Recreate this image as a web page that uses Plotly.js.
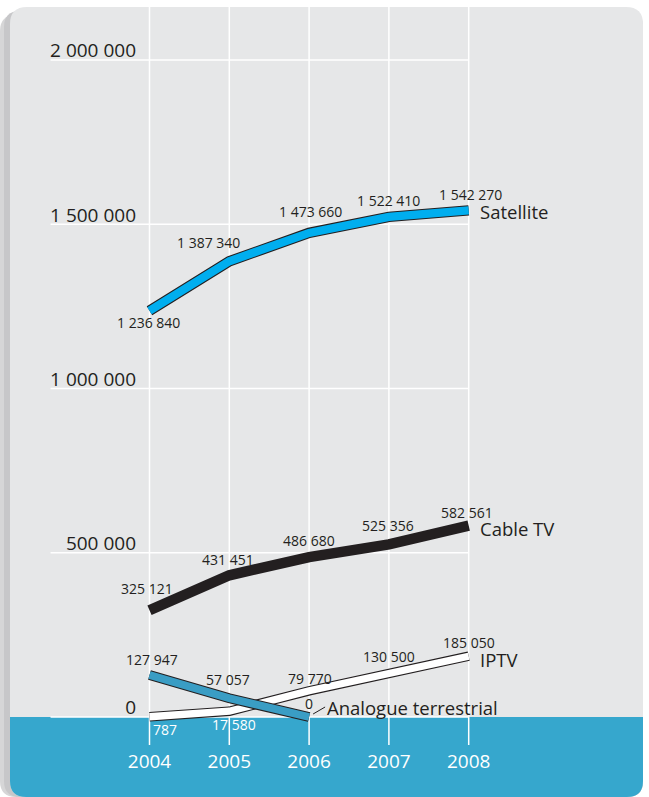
<!DOCTYPE html>
<html>
<head>
<meta charset="utf-8">
<script src="https://cdn.plot.ly/plotly-3.0.1.min.js"></script>
<style>
  html, body { margin: 0; padding: 0; background: #ffffff; }
  #chart { width: 649px; height: 797px; }
</style>
</head>
<body>
<div id="chart"></div>
<script>
// ---------- DATA ----------
const years = [2004, 2005, 2006, 2007, 2008];
const satellite = [1236840, 1387340, 1473660, 1522410, 1542270];
const cableTV = [325121, 431451, 486680, 525356, 582561];
const iptv = [787, 17580, 79770, 130500, 185050];
const analogueYears = [2004, 2005, 2006];
const analogue = [127947, 57057, 0];
const yTickVals = [0, 500000, 1000000, 1500000, 2000000];
const yTickText = ['0', '500 000', '1 000 000', '1 500 000', '2 000 000'];
const xTickText = ['2004', '2005', '2006', '2007', '2008'];
const seriesNames = ['Satellite', 'Cable TV', 'IPTV', 'Analogue terrestrial'];

// ---------- STYLE ----------
const W = 649, H = 797;
const INK = '#231f20';
const PANEL = '#e6e7e8';
const BAND = '#36a7cd';
const FONT = 'Open Sans, Noto Sans, sans-serif';

// label offsets in pixels [dx, dy(up)]
const satOff = [[-1, -12], [-21, 18.5], [1, 21], [0, 16], [2, 15.5]];
const cabOff = [[-2.5, 22], [-1, 16], [0, 16.5], [-1, 18.5], [-2, 13.5]];
const iptvOff = [[15.5, -12.5], [4.5, -13.5], [0.5, 12.5], [0, 17.5], [0, 13.5]];
const anaOff = [[2, 15], [-1, 18.5], [0, 14]];
const iptvLabelColor = ['#ffffff', '#ffffff', INK, INK, INK];

function fmt(v) { return String(v).replace(/\B(?=(\d{3})+(?!\d))/g, ' '); }
function P(x, y) { return (x / W).toFixed(5) + ',' + (1 - y / H).toFixed(5); }
function roundRect(x0, y0, x1, y1, rT, rB) {
  return 'M' + P(x0 + rT, y0) + ' L' + P(x1 - rT, y0) +
    ' Q' + P(x1, y0) + ' ' + P(x1, y0 + rT) +
    ' L' + P(x1, y1 - rB) + ' Q' + P(x1, y1) + ' ' + P(x1 - rB, y1) +
    ' L' + P(x0 + rB, y1) + ' Q' + P(x0, y1) + ' ' + P(x0, y1 - rB) +
    ' L' + P(x0, y0 + rT) + ' Q' + P(x0, y0) + ' ' + P(x0 + rT, y0) + ' Z';
}

// ---------- TRACES ----------
function outlined(x, y, color, wOut, wIn) {
  const out = [];
  if (wOut) out.push({ x: x, y: y, type: 'scatter', mode: 'lines', line: { color: INK, width: wOut }, hoverinfo: 'skip', showlegend: false });
  out.push({ x: x, y: y, type: 'scatter', mode: 'lines', line: { color: color, width: wIn }, hoverinfo: 'skip', showlegend: false });
  return out;
}
const traces = [].concat(
  outlined(years, satellite, '#00aeef', 10.5, 8.3),
  outlined(years, cableTV, INK, 0, 10.5),
  outlined(years, iptv, '#ffffff', 9.5, 7.3),
  outlined(analogueYears, analogue, '#3a9dc4', 10, 7.8)
);

// ---------- SHAPES ----------
const shapes = [];
shapes.push({ type: 'path', xref: 'paper', yref: 'paper', path: roundRect(0, 15, 643, 797, 16, 16), fillcolor: '#d6d6d7', line: { width: 0 }, layer: 'below' });
shapes.push({ type: 'path', xref: 'paper', yref: 'paper', path: roundRect(4, 11, 643, 797, 16, 16), fillcolor: '#c7c7c9', line: { width: 0 }, layer: 'below' });
shapes.push({ type: 'path', xref: 'paper', yref: 'paper', path: roundRect(10, 7, 643, 797, 17, 16), fillcolor: PANEL, line: { width: 0 }, layer: 'below' });
yTickVals.forEach(function (v) {
  shapes.push({ type: 'line', xref: 'x', yref: 'y', x0: 2002.76, x1: years[years.length - 1], y0: v, y1: v, line: { color: '#ffffff', width: 1.5 }, layer: 'below' });
});
shapes.push({ type: 'path', xref: 'paper', yref: 'paper', path: roundRect(10, 717, 643, 797, 0, 16), fillcolor: BAND, line: { width: 0 }, layer: 'below' });
years.forEach(function (yr) {
  shapes.push({ type: 'line', xref: 'x', yref: 'paper', x0: yr, x1: yr, y0: 1 - 745 / H, y1: 1 - 7 / H, line: { color: '#ffffff', width: 1.5 }, layer: 'below' });
});
// leader line for Analogue terrestrial
shapes.push({ type: 'line', xref: 'x', yref: 'y', xsizemode: 'pixel', ysizemode: 'pixel',
  xanchor: analogueYears[analogueYears.length - 1], yanchor: analogue[analogue.length - 1],
  x0: 4, x1: 16, y0: 3, y1: 10, line: { color: INK, width: 1 } });

// ---------- ANNOTATIONS ----------
const annotations = [];
function addLabels(xs, ys, offs, colors) {
  xs.forEach(function (x, i) {
    annotations.push({ x: x, y: ys[i], xref: 'x', yref: 'y', text: fmt(ys[i]), showarrow: false,
      xshift: offs[i][0], yshift: offs[i][1], font: { family: FONT, size: 14, color: colors ? colors[i] : INK } });
  });
}
addLabels(years, satellite, satOff);
addLabels(years, cableTV, cabOff);
addLabels(years, iptv, iptvOff, iptvLabelColor);
addLabels(analogueYears, analogue, anaOff);

const nameFont = { family: FONT, size: 18.5, color: INK };
const lastI = years.length - 1;
annotations.push({ x: years[lastI], y: satellite[lastI], xref: 'x', yref: 'y', text: seriesNames[0], showarrow: false, xanchor: 'left', xshift: 9, yshift: -1, font: nameFont });
annotations.push({ x: years[lastI], y: cableTV[lastI], xref: 'x', yref: 'y', text: seriesNames[1], showarrow: false, xanchor: 'left', xshift: 9, yshift: -2.5, font: nameFont });
annotations.push({ x: years[lastI], y: iptv[lastI], xref: 'x', yref: 'y', text: seriesNames[2], showarrow: false, xanchor: 'left', xshift: 9, yshift: -3, font: nameFont });
const aL = analogue.length - 1;
annotations.push({ x: analogueYears[aL], y: analogue[aL], xref: 'x', yref: 'y', text: seriesNames[3], showarrow: false, xanchor: 'left', xshift: 16, yshift: 10, font: nameFont });

// ---------- LAYOUT ----------
const layout = {
  width: W, height: H,
  margin: { l: 0, r: 0, t: 0, b: 0, pad: 0 },
  paper_bgcolor: '#ffffff',
  plot_bgcolor: 'rgba(0,0,0,0)',
  showlegend: false,
  xaxis: {
    range: [2002.1266, 2010.2594],
    anchor: 'free', position: 1 - 748 / H,
    tickvals: years, ticktext: xTickText,
    ticks: '', showline: false, showgrid: false, zeroline: false,
    tickfont: { family: FONT, size: 19, color: '#ffffff' },
    fixedrange: true
  },
  yaxis: {
    range: [-243531, 2182648],
    anchor: 'free', position: 136 / W, side: 'left',
    tickvals: yTickVals, ticktext: yTickText,
    ticks: '', showline: false, showgrid: false, zeroline: false,
    ticklabelposition: 'outside top', ticklabelstandoff: 0, ticklabelshift: 4,
    tickfont: { family: FONT, size: 19, color: INK },
    fixedrange: true
  },
  shapes: shapes,
  annotations: annotations
};

Plotly.newPlot('chart', traces, layout, { displayModeBar: false, staticPlot: true });
</script>
</body>
</html>
